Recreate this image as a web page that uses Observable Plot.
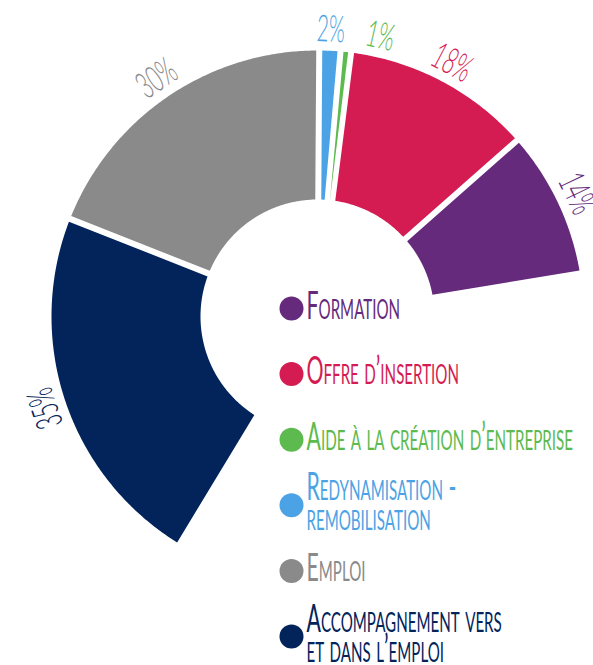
<!DOCTYPE html>
<html><head><meta charset="utf-8">
<script src="https://cdn.jsdelivr.net/npm/d3@7"></script>
<script src="https://cdn.jsdelivr.net/npm/@observablehq/plot@0.6"></script>
<style>
html,body{margin:0;padding:0;background:#fff;}
#chart{width:593px;height:665px;}
</style></head><body><div id="chart"></div>
<script>
// ---- data (clockwise order, starting bottom-left) ----
const categories = ["Accompagnement vers\net dans l’emploi", "Emploi", "Redynamisation -\nremobilisation", "Aide à la création d’entreprise", "Offre d’insertion", "Formation"];
const values = [35, 30, 2, 1, 18, 14];
const percentLabels = ["35%", "30%", "2%", "1%", "18%", "14%"];
const colors = ["#02245a", "#8a8a8a", "#4ba3e5", "#5cba4f", "#d41b52", "#652a7b"];
const legendOrder = ["Formation", "Offre d’insertion", "Aide à la création d’entreprise", "Redynamisation -\nremobilisation", "Emploi", "Accompagnement vers\net dans l’emploi"];

// ---- layout ----
const W = 593, H = 665, CX = 317, CY = 316;
const R_IN = 117, R_OUT = 266, GAP = 6;
const START = -148.8, END = 80.7;          // degrees, clockwise from 12 o'clock
const LABEL_R = 287, LABEL_MIN_SEP = 10;
const FONT = "Lato, 'Open Sans', sans-serif";
const CONDENSE_LABEL = 0.56, CONDENSE_LEGEND = 0.56;
const rad = Math.PI / 180;
const pt = (r, deg) => ({x: r * Math.sin(deg * rad), y: -r * Math.cos(deg * rad)});

const total = d3.sum(values);
let acc = 0;
const slices = values.map((v, i) => {
  const a0 = START + (END - START) * acc / total; acc += v;
  const a1 = START + (END - START) * acc / total;
  return {cat: categories[i], value: v, label: percentLabels[i], a0, a1, mid: (a0 + a1) / 2};
});

function padded(a0, a1, r) {
  const p = (GAP / 2 / r) / rad;
  let b0 = a0 + p, b1 = a1 - p;
  if (b1 < b0) { const m = (a0 + a1) / 2; b0 = b1 = m; }
  return [b0, b1];
}
const outline = slices.flatMap(s => {
  const pts = [];
  const [o0, o1] = padded(s.a0, s.a1, R_OUT);
  const [i0, i1] = padded(s.a0, s.a1, R_IN);
  const n = Math.max(2, Math.ceil((o1 - o0) * 2));
  for (let k = 0; k <= n; k++) pts.push({cat: s.cat, ...pt(R_OUT, o0 + (o1 - o0) * k / n)});
  const m = Math.max(2, Math.ceil((i1 - i0) * 2));
  for (let k = m; k >= 0; k--) pts.push({cat: s.cat, ...pt(R_IN, i0 + (i1 - i0) * k / m)});
  pts.push({...pts[0]});
  return pts;
});

let prev = -Infinity;
const labels = slices.map(s => {
  const a = Math.max(s.mid, prev + LABEL_MIN_SEP); prev = a;
  return {...s, rot: a, ...pt(LABEL_R, a)};
});

// legend
const LEG_X_DOT = 291, LEG_X_TEXT = 306, LEG_Y0 = 306, LEG_STEP = 65.6, LEG_LH = 30;
const legendRows = legendOrder.map((c, i) => ({cat: c, cy: LEG_Y0 + i * LEG_STEP}));
const legendDots = legendRows.map(r => ({cat: r.cat, x: LEG_X_DOT - CX, y: r.cy + 2 - CY}));
const legendLines = legendRows.flatMap(r => {
  const ls = r.cat.split("\n");
  return ls.map((t, j) => ({cat: r.cat, text: t, x: LEG_X_TEXT - CX, y: r.cy + (j - (ls.length - 1) / 2) * LEG_LH - CY}));
});

const svg = Plot.plot({
  width: W, height: H, margin: 0,
  x: {domain: [-CX, W - CX], range: [0, W], axis: null},
  y: {domain: [-CY, H - CY], range: [0, H], axis: null},
  color: {domain: categories, range: colors},
  style: {background: "#fff"},
  marks: [
    Plot.line(outline, {x: "x", y: "y", z: "cat", fill: "cat", stroke: "none", curve: "linear"}),
    Plot.text(labels, {x: "x", y: "y", text: "label", rotate: "rot", fill: "cat", fontSize: 37, fontWeight: 300, fontFamily: FONT, fontVariant: "normal", textAnchor: "middle", lineAnchor: "middle", className: "pct"}),
    Plot.dot(legendDots, {x: "x", y: "y", r: 12, fill: "cat", stroke: "none"}),
    Plot.text(legendLines, {x: "x", y: "y", text: "text", fill: "cat", fontSize: 38, fontFamily: FONT, fontVariant: "small-caps", textAnchor: "start", lineAnchor: "middle", className: "leg"})
  ]
});
document.getElementById("chart").append(svg);
function condense(sel, k) {
  svg.querySelectorAll(sel).forEach(t => {
    const w = t.getComputedTextLength();
    if (w > 0) {
      t.setAttribute("textLength", (w * k).toFixed(1));
      t.setAttribute("lengthAdjust", "spacingAndGlyphs");
    }
  });
}
condense(".pct text", CONDENSE_LABEL);
condense(".leg text", CONDENSE_LEGEND);
</script>
</body></html>
